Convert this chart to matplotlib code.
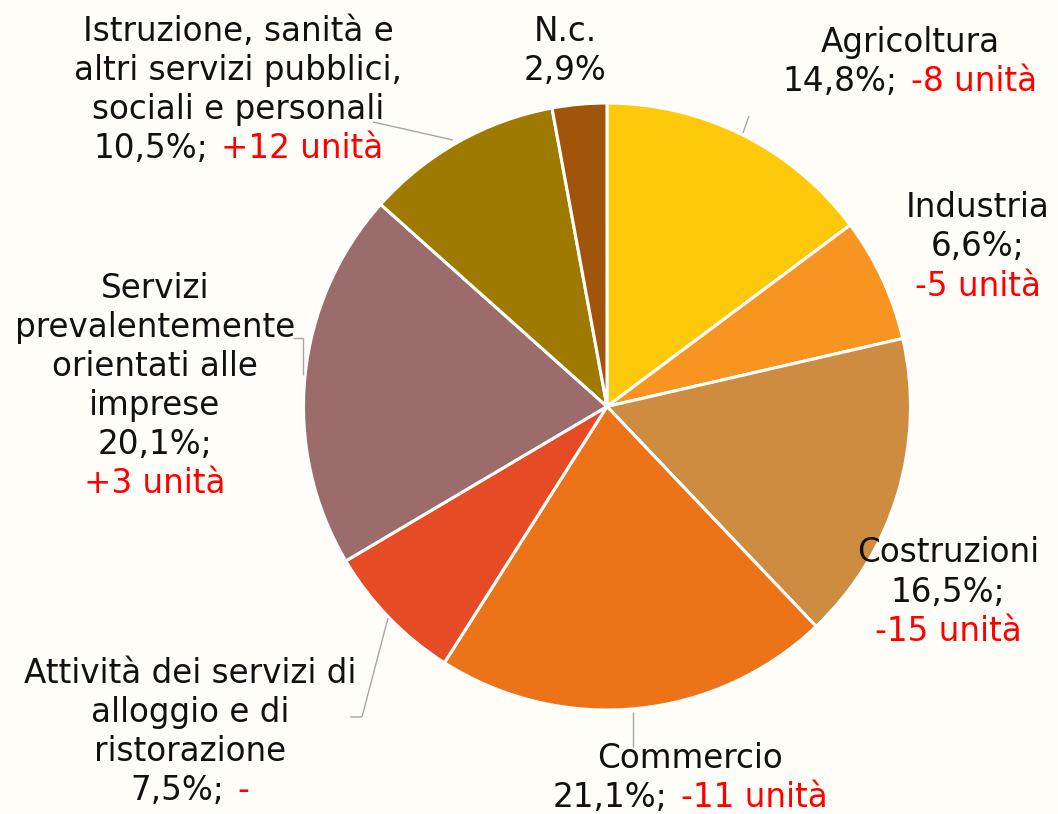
import matplotlib
matplotlib.use('Agg')
import matplotlib.pyplot as plt
from matplotlib.offsetbox import TextArea, HPacker, VPacker, AnnotationBbox

# ---- data ----
categories = ['Agricoltura', 'Industria', 'Costruzioni', 'Commercio',
              'Attività dei servizi di alloggio e di ristorazione',
              'Servizi prevalentemente orientati alle imprese',
              'Istruzione, sanità e altri servizi pubblici, sociali e personali',
              'N.c.']
shares = [14.8, 6.6, 16.5, 21.1, 7.5, 20.1, 10.5, 2.9]
changes = ['-8 unità', '-5 unità', '-15 unità', '-11 unità', '-', '+3 unità', '+12 unità', '']
name_lines = [['Agricoltura'], ['Industria'], ['Costruzioni'], ['Commercio'],
              ['Attività dei servizi di', 'alloggio e di', 'ristorazione'],
              ['Servizi', 'prevalentemente', 'orientati alle', 'imprese'],
              ['Istruzione, sanità e', 'altri servizi pubblici,', 'sociali e personali'],
              ['N.c.']]
change_own_line = [False, True, True, False, False, True, False, False]
colors = ['#FFC90B', '#F79520', '#CD8C40', '#EC7318', '#E54B24', '#9C6B6B', '#9E7A00', '#A0550A']

# ---- layout (pixel coordinates, y from top) ----
W, H = 1058, 814
BG = '#FFFDF7'
center_px = (607, 406.5)
radius_px = 303.5
label_pos = [(910, 62), (978, 247), (948, 592), (690, 778), (190, 732),
             (155, 386), (238, 90), (565, 51)]
leaders = [
    [(749, 116), (743, 133)],
    None, None,
    [(633, 712), (633, 747)],
    [(388, 618), (362, 717), (350, 717)],
    [(293, 338), (303, 338), (303, 375)],
    [(373, 122), (453, 140)],
    None,
]

FS = 23.5
BLACK = '#111111'
RED = '#FF0000'
LEADER = '#A6A6A6'

fig = plt.figure(figsize=(W / 100, H / 100), dpi=100, facecolor=BG)
ax = fig.add_axes([0, 0, 1, 1])
ax.set_facecolor(BG)

ax.pie(shares, colors=colors, startangle=90, counterclock=False,
       center=(center_px[0], H - center_px[1]), radius=radius_px,
       wedgeprops=dict(edgecolor='white', linewidth=2.2), frame=True)
ax.set_xlim(0, W)
ax.set_ylim(0, H)
ax.set_aspect('equal')
ax.axis('off')


def ta(s, c):
    return TextArea(s, textprops=dict(color=c, fontsize=FS, family='DejaVu Sans'))


for i, cat in enumerate(categories):
    rows = [HPacker(children=[ta(l, BLACK)], pad=0, sep=0) for l in name_lines[i]]
    pct = f"{shares[i]:.1f}".replace('.', ',') + '%'
    if changes[i]:
        pct += ';'
        if change_own_line[i]:
            rows.append(HPacker(children=[ta(pct, BLACK)], pad=0, sep=0))
            rows.append(HPacker(children=[ta(changes[i], RED)], pad=0, sep=0))
        else:
            rows.append(HPacker(children=[ta(pct, BLACK), ta(changes[i], RED)],
                                pad=0, sep=9.5, align='baseline'))
    else:
        rows.append(HPacker(children=[ta(pct, BLACK)], pad=0, sep=0))
    box = VPacker(children=rows, pad=0, sep=4.4, align='center')
    x, y = label_pos[i]
    ab = AnnotationBbox(box, (x, H - y), xycoords='data', frameon=False,
                        box_alignment=(0.5, 0.5), pad=0)
    ax.add_artist(ab)
    if leaders[i]:
        xs = [p[0] for p in leaders[i]]
        ys = [H - p[1] for p in leaders[i]]
        ax.plot(xs, ys, color=LEADER, lw=1.0, solid_capstyle='butt')

fig.savefig('out.png', dpi=100, facecolor=BG)
